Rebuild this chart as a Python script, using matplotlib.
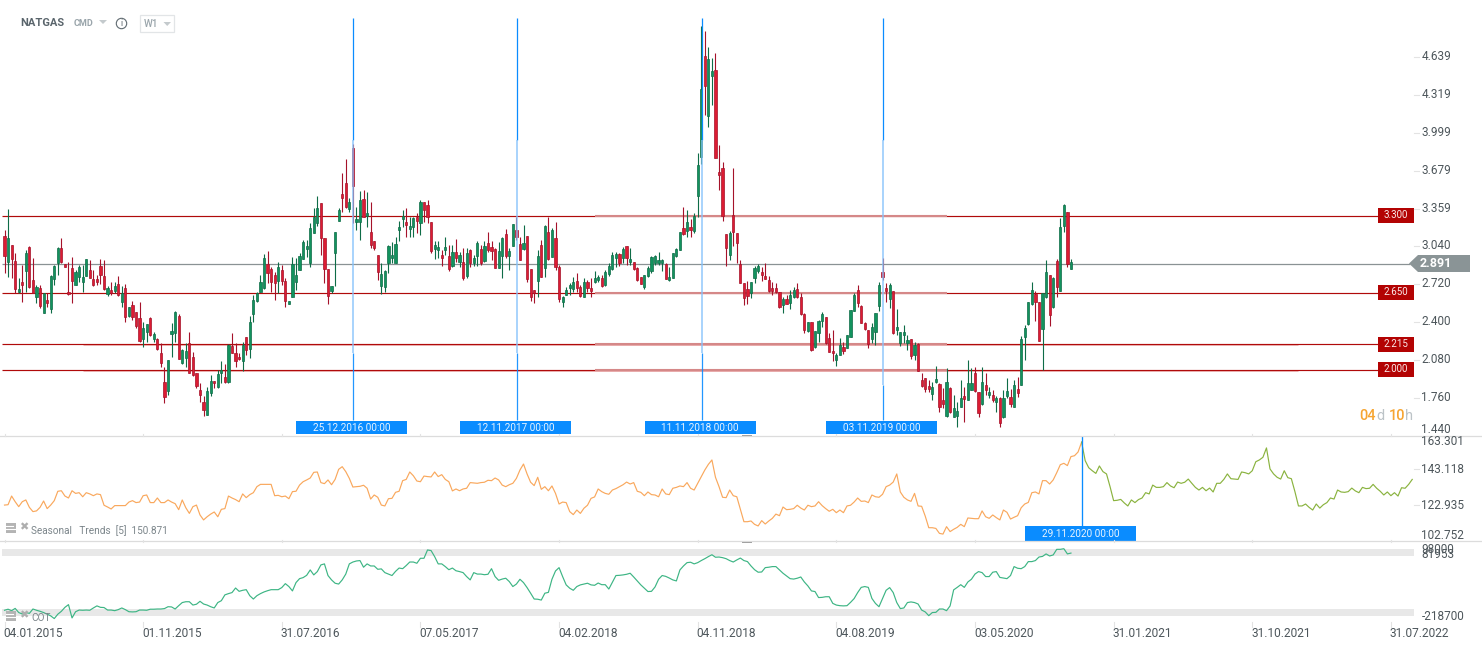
import numpy as np
import matplotlib
matplotlib.use("Agg")
import matplotlib.pyplot as plt
from matplotlib.patches import Rectangle, Polygon, Circle

plt.rcParams['font.family'] = ['Roboto', 'DejaVu Sans']

# weekly candles
highs = [
3.179,3.355,3.052,2.982,2.772,2.884,3.010,3.044,2.940,2.715,
2.715,2.651,2.645,2.800,2.884,3.038,3.108,2.889,2.912,2.954,
2.842,2.884,2.884,2.932,2.926,2.842,2.800,2.932,2.926,2.707,
2.743,2.743,2.791,2.707,2.724,2.533,2.583,2.491,2.572,2.404,
2.387,2.443,2.322,2.266,2.224,2.028,2.084,2.393,2.496,2.471,
2.174,2.224,2.320,2.154,1.972,1.893,1.781,1.859,1.958,1.904,
2.000,2.078,2.050,2.216,2.314,2.230,2.140,2.238,2.280,2.454,
2.631,2.659,2.800,2.976,3.002,2.870,2.828,2.912,2.884,2.772,
2.578,2.954,2.940,2.988,3.094,3.094,3.240,3.361,3.465,3.403,
3.108,2.847,2.707,3.165,3.361,3.661,3.776,3.445,3.903,3.375,
3.507,3.515,3.501,3.417,3.085,2.967,2.897,2.841,3.052,3.080,
3.122,3.257,3.346,3.360,3.285,3.290,3.318,3.431,3.417,3.431,
3.248,3.088,3.088,3.010,3.122,3.052,3.052,3.099,2.995,3.024,
3.024,3.015,2.967,3.085,3.052,3.085,3.164,3.085,3.024,3.080,
3.122,3.184,3.024,3.228,3.290,3.122,3.220,3.127,2.850,2.673,
3.010,3.094,3.220,3.290,3.192,3.248,2.883,2.622,2.701,2.729,
2.785,2.813,2.715,2.771,2.757,2.771,2.835,2.799,2.799,2.841,
2.897,2.995,2.995,2.987,3.038,3.046,3.024,2.911,2.864,2.785,
2.799,2.875,2.959,2.967,2.995,2.931,2.897,2.864,2.981,3.024,
3.164,3.369,3.346,3.268,3.318,3.824,4.896,4.854,4.717,4.624,
4.666,3.894,3.748,3.145,3.173,3.698,3.150,2.926,2.729,2.752,
2.743,2.875,2.892,2.870,2.898,2.791,2.743,2.729,2.659,2.611,
2.631,2.673,2.701,2.729,2.645,2.477,2.406,2.406,2.331,2.420,
2.491,2.449,2.308,2.336,2.140,2.266,2.238,2.294,2.505,2.645,
2.715,2.547,2.406,2.336,2.392,2.477,2.743,2.940,2.729,2.735,
2.667,2.510,2.322,2.378,2.294,2.258,2.238,2.224,1.971,1.935,
1.915,1.901,2.033,1.893,1.845,2.015,1.859,1.789,1.733,1.915,
1.859,2.084,2.019,2.027,1.817,2.027,1.977,1.859,1.831,1.783,
1.775,1.831,1.929,1.837,1.915,1.943,2.286,2.378,2.575,2.743,
2.667,2.575,2.645,2.926,2.799,2.785,2.931,3.277,3.397,3.327,
2.931]
lows = [
2.819,2.786,2.772,2.645,2.645,2.575,2.659,2.687,2.645,2.561,
2.519,2.482,2.533,2.482,2.715,2.800,2.898,2.870,2.631,2.567,
2.715,2.743,2.659,2.794,2.772,2.710,2.715,2.724,2.673,2.626,
2.631,2.645,2.623,2.533,2.407,2.449,2.421,2.351,2.238,2.196,
2.238,2.286,2.238,2.168,2.022,1.725,1.789,2.112,2.238,2.089,
2.050,2.028,1.972,1.952,1.845,1.733,1.615,1.623,1.781,1.845,
1.845,1.893,1.893,1.893,2.140,2.022,2.084,1.994,2.126,2.101,
2.401,2.575,2.659,2.682,2.729,2.659,2.589,2.651,2.715,2.533,
2.558,2.617,2.673,2.842,2.932,2.954,2.870,3.151,3.212,2.968,
2.735,2.555,2.645,2.707,3.257,3.333,3.361,3.333,3.240,3.179,
3.094,3.285,3.207,3.024,3.010,2.757,2.639,2.659,2.813,2.897,
2.903,3.085,3.206,3.122,3.116,3.122,3.155,3.136,3.248,3.240,
2.987,2.934,2.939,2.878,2.967,2.835,2.864,2.911,2.864,2.757,
2.771,2.864,2.875,2.875,2.883,2.911,2.995,2.925,2.855,2.855,
2.774,2.945,2.841,3.046,3.094,2.925,3.010,2.743,2.583,2.566,
2.617,2.785,2.785,2.925,2.948,2.841,2.569,2.532,2.631,2.631,
2.659,2.659,2.617,2.617,2.659,2.617,2.729,2.743,2.701,2.706,
2.791,2.841,2.869,2.875,2.897,2.883,2.883,2.841,2.751,2.723,
2.678,2.785,2.819,2.883,2.883,2.835,2.763,2.751,2.777,2.953,
3.010,3.136,3.122,3.116,3.150,3.291,3.734,4.147,4.043,4.231,
3.788,3.515,3.257,2.875,2.926,3.044,2.898,2.735,2.547,2.555,
2.609,2.735,2.819,2.752,2.766,2.659,2.631,2.651,2.524,2.482,
2.552,2.516,2.603,2.609,2.463,2.308,2.322,2.162,2.182,2.238,
2.364,2.218,2.154,2.078,2.036,2.126,2.134,2.182,2.280,2.499,
2.533,2.392,2.336,2.182,2.224,2.210,2.499,2.757,2.575,2.519,
2.300,2.294,2.204,2.224,2.168,2.089,2.084,1.994,1.859,1.817,
1.811,1.747,1.893,1.649,1.677,1.606,1.635,1.606,1.522,1.691,
1.564,1.747,1.831,1.817,1.601,1.705,1.789,1.761,1.733,1.649,
1.522,1.592,1.761,1.691,1.685,1.775,1.870,2.084,2.378,2.547,
2.415,2.244,2.000,2.603,2.370,2.519,2.617,2.667,3.159,2.870,
2.847]
body_tops = [
3.128,3.108,3.052,2.918,2.682,2.741,2.982,3.033,2.758,2.701,
2.687,2.645,2.589,2.791,2.875,3.024,3.024,2.889,2.659,2.856,
2.822,2.864,2.780,2.932,2.842,2.763,2.766,2.875,2.791,2.687,
2.673,2.707,2.724,2.645,2.687,2.527,2.547,2.488,2.438,2.353,
2.387,2.438,2.303,2.258,2.140,1.899,2.084,2.328,2.488,2.454,
2.168,2.160,2.224,2.109,1.972,1.831,1.730,1.823,1.904,1.904,
1.966,2.000,1.941,2.210,2.202,2.140,2.109,2.210,2.275,2.404,
2.589,2.645,2.741,2.940,2.892,2.847,2.797,2.864,2.842,2.749,
2.578,2.892,2.800,2.960,3.078,3.044,3.193,3.285,3.361,3.403,
3.108,2.847,2.707,3.165,3.347,3.482,3.574,3.414,3.866,3.268,
3.431,3.437,3.319,3.164,3.085,2.967,2.807,2.835,3.043,2.967,
3.060,3.206,3.296,3.248,3.212,3.282,3.290,3.414,3.414,3.388,
3.245,3.052,3.032,2.967,3.035,2.959,2.993,2.993,2.967,2.911,
2.984,3.007,2.942,3.066,3.015,3.043,3.066,3.032,3.015,2.998,
3.111,3.141,3.001,3.228,3.178,3.057,3.066,3.127,2.850,2.673,
2.959,3.052,3.212,3.161,3.178,3.108,2.869,2.611,2.673,2.712,
2.737,2.746,2.701,2.737,2.737,2.689,2.771,2.779,2.771,2.821,
2.872,2.965,2.979,2.973,3.018,3.040,2.934,2.906,2.858,2.779,
2.796,2.855,2.948,2.956,2.922,2.925,2.892,2.779,2.981,3.015,
3.158,3.192,3.245,3.203,3.296,3.726,4.363,4.644,4.616,4.517,
4.526,3.664,3.698,3.145,3.156,3.302,3.150,2.892,2.729,2.679,
2.738,2.856,2.875,2.825,2.791,2.757,2.687,2.687,2.653,2.595,
2.595,2.631,2.673,2.679,2.611,2.471,2.406,2.404,2.325,2.409,
2.471,2.443,2.266,2.162,2.123,2.210,2.190,2.294,2.502,2.631,
2.673,2.538,2.392,2.333,2.362,2.477,2.715,2.825,2.690,2.715,
2.662,2.362,2.317,2.319,2.252,2.258,2.213,2.218,1.915,1.932,
1.865,1.856,1.921,1.882,1.747,1.896,1.848,1.677,1.654,1.761,
1.780,1.887,1.890,1.971,1.817,1.896,1.873,1.814,1.786,1.764,
1.766,1.764,1.820,1.775,1.870,1.837,2.258,2.353,2.569,2.673,
2.639,2.569,2.645,2.822,2.797,2.771,2.917,3.201,3.392,3.327,
2.906]
body_bottoms = [
2.962,2.912,2.937,2.685,2.656,2.718,2.836,2.696,2.651,2.617,
2.539,2.482,2.567,2.516,2.769,2.903,2.912,2.870,2.637,2.752,
2.715,2.786,2.743,2.794,2.777,2.715,2.743,2.802,2.679,2.637,
2.651,2.668,2.631,2.575,2.449,2.454,2.449,2.373,2.244,2.263,
2.322,2.294,2.258,2.174,2.061,1.775,1.826,2.306,2.314,2.095,
2.056,2.104,1.977,1.958,1.865,1.786,1.666,1.623,1.803,1.887,
1.859,1.977,1.899,1.899,2.140,2.078,2.089,2.078,2.165,2.179,
2.474,2.583,2.659,2.687,2.814,2.743,2.735,2.752,2.752,2.583,
2.558,2.617,2.743,2.842,2.937,3.021,2.903,3.156,3.235,3.114,
2.847,2.626,2.665,2.988,3.257,3.448,3.375,3.358,3.552,3.249,
3.246,3.291,3.299,3.052,3.024,2.827,2.706,2.701,2.897,2.945,
2.903,3.178,3.273,3.220,3.186,3.206,3.257,3.234,3.346,3.290,
3.004,3.018,3.012,2.942,3.012,2.850,2.875,2.939,2.908,2.774,
2.791,2.897,2.903,2.959,2.897,2.920,3.010,3.004,2.861,2.861,
2.962,2.959,2.962,3.046,3.122,2.928,3.015,2.765,2.617,2.645,
2.751,2.785,2.855,2.937,2.953,2.869,2.600,2.572,2.633,2.692,
2.684,2.689,2.625,2.617,2.692,2.667,2.743,2.760,2.709,2.715,
2.810,2.847,2.942,2.900,2.939,2.939,2.911,2.852,2.757,2.726,
2.701,2.791,2.833,2.903,2.903,2.903,2.768,2.760,2.777,2.959,
3.012,3.144,3.172,3.178,3.172,3.467,3.790,4.394,4.141,4.478,
3.788,3.644,3.299,3.030,2.968,3.164,3.072,2.735,2.609,2.623,
2.645,2.777,2.836,2.799,2.769,2.667,2.667,2.659,2.533,2.547,
2.558,2.561,2.611,2.611,2.468,2.336,2.331,2.168,2.190,2.314,
2.415,2.224,2.154,2.140,2.084,2.129,2.162,2.182,2.280,2.499,
2.561,2.398,2.348,2.218,2.260,2.317,2.538,2.783,2.665,2.600,
2.308,2.339,2.224,2.297,2.230,2.117,2.126,1.994,1.867,1.842,
1.842,1.800,1.898,1.691,1.713,1.612,1.649,1.606,1.612,1.691,
1.758,1.750,1.834,1.823,1.640,1.710,1.831,1.792,1.744,1.727,
1.550,1.601,1.780,1.710,1.691,1.803,1.870,2.275,2.384,2.552,
2.575,2.246,2.342,2.611,2.460,2.527,2.696,2.667,3.215,2.892,
2.847]
up_down = (
"rgrrgrgrrg" "rgrgggrrrr" "ggggrrrrrg" "rgrgrgrrrg" "grgrrrgggr" "ggrrrrrggr"
"ggrgrrrgrg" "ggggrrrgrr" "gggggggggr" "rrgggrrgrg" "grgrrrgggg" "gggrggrgrr"
"rggrgrgrgr" "grggrgrrrg" "grggrrgrrr" "grgrgrrggg" "grrgrrggrg" "gggrgrgrrr"
"ggggggrggg" "grgrgggrgg" "rrrrgrrrrr" "gggrrrrrrg" "rggrrrgrgg" "grrrggrggg"
"rrrrgggrrg" "rggggrgrrr" "rggrrgrggg" "rggrrgrgrg" "rggrgrgggg" "rrggrgrggr" "g")

seasonal = [
122.9,123.1,128.0,124.8,122.0,124.8,125.8,121.6,119.2,119.6,
121.6,125.2,120.9,122.9,125.4,130.7,131.0,128.0,126.9,131.0,
129.5,129.9,127.6,129.9,129.2,128.2,129.2,128.8,122.8,121.8,
120.7,122.6,122.6,122.6,122.6,124.6,125.4,124.3,124.6,128.2,
128.6,124.3,124.3,126.9,124.3,124.3,125.8,124.6,123.7,120.3,
125.8,121.4,118.2,122.0,122.9,117.3,114.5,116.3,117.8,119.0,
116.3,120.5,120.9,128.0,126.9,126.0,124.8,129.2,127.1,128.8,
129.9,133.3,134.6,134.6,134.6,134.6,128.2,128.4,127.6,128.0,
126.5,130.5,130.7,134.2,136.1,137.1,138.2,141.4,141.6,135.6,
135.0,137.1,134.4,137.4,143.1,144.6,141.8,138.0,133.1,133.3,
133.5,134.1,132.4,126.3,128.6,127.3,122.9,122.4,126.5,126.7,
130.1,130.7,136.7,137.4,141.6,139.5,136.5,136.1,139.3,139.0,
138.8,141.6,139.0,140.1,137.4,136.1,130.9,132.0,131.0,132.0,
132.4,135.6,135.4,135.2,135.6,135.8,136.9,136.7,138.2,137.1,
134.2,133.3,134.4,135.2,138.0,142.7,146.1,140.5,135.8,133.9,
138.6,131.8,133.3,131.0,133.7,129.5,123.5,124.6,124.3,119.2,
117.5,120.1,118.2,121.1,122.8,126.7,127.5,132.0,130.5,129.5,
129.0,131.4,132.2,133.3,134.4,135.9,134.8,135.6,130.7,130.1,
128.2,130.3,128.8,128.6,127.6,132.0,129.2,128.8,132.4,132.9,
133.7,133.3,135.6,132.4,131.4,135.2,139.0,142.7,145.9,148.4,
138.6,133.3,127.3,127.1,131.4,128.2,127.6,120.5,113.5,113.5,
113.9,112.0,111.1,114.1,112.2,113.9,115.4,117.8,116.9,121.8,
120.3,120.5,120.9,122.8,121.2,120.1,122.8,122.0,122.4,124.8,
122.6,120.9,119.4,120.5,118.6,120.1,118.6,122.4,122.8,124.6,
126.9,125.0,125.2,124.3,128.6,127.6,127.3,129.0,133.3,134.2,
135.9,140.5,130.3,127.3,125.8,125.0,129.5,122.4,122.2,116.7,
110.1,110.1,109.7,106.9,106.5,110.7,107.9,109.2,110.3,112.0,
110.7,115.6,115.4,115.2,115.2,119.6,116.3,115.4,117.3,115.8,
114.5,120.1,118.8,115.0,116.0,116.9,121.4,123.5,124.4,129.9,
130.3,129.2,136.7,136.7,134.8,137.1,141.2,145.7,146.5,145.2,
150.3,150.8,152.9,158.5]
seasonal_forecast = [
158.5,148.0,144.0,142.3,140.8,145.0,141.8,140.5,133.3,125.4,125.6,
126.1,124.1,122.4,125.8,124.3,126.0,126.9,129.9,129.2,134.2,
132.9,132.9,133.3,135.6,133.7,132.7,135.9,135.2,135.8,137.6,
135.2,132.9,131.4,132.9,131.0,132.5,130.3,135.2,135.2,137.4,
140.5,137.8,137.6,137.4,141.6,141.2,140.5,142.3,147.4,148.4,
149.9,155.2,143.3,140.5,138.6,137.6,142.3,138.4,137.8,130.5,
122.4,122.4,123.5,121.6,120.1,123.5,121.2,123.1,124.3,126.9,
126.3,131.4,130.3,130.1,130.5,132.5,130.9,129.9,132.9,132.2,
132.4,134.6,132.4,130.7,128.6,130.3,128.2,129.9,128.0,132.7,
132.4,134.6,137.4]

# thousands of contracts
cot = [
-191,-186,-193,-182,-202,-209,-202,-206,-185,-191,
-196,-202,-210,-218,-231,-210,-196,-177,-164,-228,
-198,-190,-191,-190,-191,-180,-170,-177,-178,-190,
-190,-193,-188,-180,-188,-198,-199,-198,-190,-190,
-191,-186,-186,-185,-185,-183,-174,-175,-185,-169,
-154,-150,-150,-166,-162,-148,-161,-166,-174,-180,
-154,-145,-117,-111,-106,-84,-100,-95,-92,-121,
-137,-121,-111,-103,-97,-92,-92,-92,-82,-63,
-77,-98,-58,-39,-34,-23,3,-21,-5,27,
32,-24,-45,-61,-65,-45,-17,32,41,46,
48,16,32,22,22,6,8,-10,-17,-24,
-4,12,9,24,41,41,35,59,59,99,
96,67,32,32,19,4,12,-1,-5,-10,
-29,-45,-10,-17,-17,-20,-18,9,-29,-47,
-41,-37,-53,-77,-65,-42,-58,-82,-109,-137,
-138,-142,-109,-105,-42,-2,14,-29,-69,-85,
-95,-77,-69,-65,-61,-69,-71,-60,-68,-68,
-89,-57,-24,-23,-21,-18,-13,-31,-50,-69,
-85,-101,-100,-79,-42,-24,-28,-36,-45,-50,
3,22,38,40,32,38,48,57,67,76,
64,65,62,57,48,41,51,60,48,43,
22,4,-8,-7,14,16,19,19,3,-13,
-26,-39,-41,-37,-31,-55,-74,-98,-101,-130,
-129,-126,-126,-158,-166,-169,-170,-169,-153,-135,
-106,-81,-77,-81,-134,-158,-174,-135,-95,-82,
-106,-154,-183,-180,-154,-151,-154,-161,-190,-199,
-217,-202,-201,-185,-185,-193,-170,-93,-81,-68,
-81,-55,-42,-17,-5,-10,-29,-29,-8,-5,
-33,-36,-39,-24,19,11,9,19,43,43,
48,65,68,80,70,75,102,102,105,80,
84]

price_ticks = [4.639, 4.319, 3.999, 3.679, 3.359, 3.040, 2.720, 2.400, 2.080, 1.760]
levels = [3.300, 2.650, 2.215, 2.000]
last_price = 2.891
date_bars = [0, 39, 78, 117, 156, 195, 234, 273, 312, 351, 390]
date_labels = ["04.01.2015", "01.11.2015", "31.07.2016", "07.05.2017", "04.02.2018",
               "04.11.2018", "04.08.2019", "03.05.2020", "31.01.2021", "31.10.2021", "31.07.2022"]
marker_bars = [98, 144, 196, 247]
marker_dates = ["25.12.2016 00:00", "12.11.2017 00:00", "11.11.2018 00:00", "03.11.2019 00:00"]
marker_pale_end = [2.145, 2.145, 2.145, 1.87]
seasonal_marker_bar = 303
seasonal_marker_date = "29.11.2020 00:00"
cot_bands = [(69.9, 103.6), (-218.7, -185.0)]

W, H = 1482, 650
TXT = "#4d565b"
RED_F, RED_E = "#dc1c33", "#a5122a"
GRN_F, GRN_E = "#12935e", "#0e6c47"
BLUE = "#0a8cff"
PALE = "#85c2fb"

fig = plt.figure(figsize=(W / 100, H / 100), dpi=100, facecolor="white")


def pane(y0, y1):
    a = fig.add_axes([0, 1 - y1 / H, 1414 / W, (y1 - y0) / H])
    a.set_xlim(-1.266, 396.5)
    a.axis("off")
    a.patch.set_alpha(0)
    return a


ax = pane(0, 436)
ax.set_ylim(1.443, 5.115)
ax_s = pane(436, 541)
ax_s.set_ylim(102.59, 161.94)
ax_c = pane(541, 622)
ax_c.set_ylim(-247.5, 142.1)

# overlay in pixel units for the labels and small furniture
ov = fig.add_axes([0, 0, 1, 1], zorder=10)
ov.set_xlim(0, W)
ov.set_ylim(H, 0)
ov.axis("off")
ov.patch.set_alpha(0)

# levels
for lv in levels:
    ax.hlines(lv, -0.7, 386.5, color="#b00a0a", lw=0.85, zorder=1)
    ax.hlines(lv - 0.006, 22, 364, color="#efbcbc", lw=0.7, zorder=0.9)
    ax.hlines(lv, 166, 265, color="#d58888", lw=1.5, zorder=1.1)
ax.hlines(last_price, -0.7, 395.5, color="#8a9294", lw=0.9, zorder=1)

# candles
x = np.arange(len(highs))
highs = np.array(highs)
lows = np.array(lows)
body_tops = np.array(body_tops)
body_bottoms = np.array(body_bottoms)
up = np.array([c == "g" for c in up_down])
ax.vlines(x[up], lows[up], highs[up], color=GRN_E, lw=0.8, zorder=2)
ax.vlines(x[~up], lows[~up], highs[~up], color=RED_E, lw=0.8, zorder=2)
ax.bar(x[up], (body_tops - body_bottoms)[up], bottom=body_bottoms[up], width=0.62,
       color=GRN_F, edgecolor=GRN_E, lw=0.5, zorder=2.5)
ax.bar(x[~up], (body_tops - body_bottoms)[~up], bottom=body_bottoms[~up], width=0.62,
       color=RED_F, edgecolor=RED_E, lw=0.5, zorder=2.5)

# vertical markers
for b, d, pe in zip(marker_bars, marker_dates, marker_pale_end):
    ax.vlines(b + 0.1, 3.936, 4.963, color=BLUE, lw=0.9, zorder=3)
    ax.vlines(b + 0.1, pe, 3.936, color=PALE, lw=1.25, alpha=0.8, zorder=3)
    ax.vlines(b + 0.1, 1.58, pe, color=BLUE, lw=0.9, alpha=0.9, zorder=3)
    cx = 4.5 + 3.555 * b
    ov.add_patch(Rectangle((cx - 56.5, 421), 111, 13, color="#0a8cff", lw=0))
    ov.text(cx - 1, 427.8, d, color="#e8f4ff", fontsize=7.2, ha="center", va="center")

# seasonal
ax_s.plot(np.arange(len(seasonal)), seasonal, color="#f9a85d", lw=0.85)
ax_s.plot(np.arange(seasonal_marker_bar, seasonal_marker_bar + len(seasonal_forecast)),
          seasonal_forecast, color="#8ab33f", lw=0.85)
ax_s.vlines(seasonal_marker_bar, 110, 161.9, color=BLUE, lw=0.95)
ov.add_patch(Rectangle((1025, 526), 111, 15, color="#0a8cff", lw=0))
ov.text(1080.5, 534.2, seasonal_marker_date, color="#e8f4ff", fontsize=7.2, ha="center", va="center")

# cot
for lo, hi in cot_bands:
    ax_c.fill_between([-0.7, 396.5], lo, hi, color="#e8e8e8", lw=0, zorder=0)
ax_c.plot(np.arange(len(cot)), cot, color="#3db584", lw=0.85, zorder=2)

# separators and tick marks
for yy in (435.5, 541):
    ov.plot([0, W], [yy, yy], color="#dcdcdc", lw=0.9)
ov.add_patch(Rectangle((742, 435), 10, 1.6, color="#9a9a9a", lw=0))
ov.add_patch(Rectangle((742, 541), 10, 1.6, color="#9a9a9a", lw=0))

for b, lab in zip(date_bars, date_labels):
    cx = 4.5 + 3.555 * b
    ov.plot([cx, cx], [622, 627], color="#e3e3e3", lw=0.8)
    ov.plot([cx, cx], [434, 436], color="#e3e3e3", lw=0.8)
    ov.plot([cx, cx], [540, 542], color="#e3e3e3", lw=0.8)
    ov.text(cx - 1, 633.5, lab, color=TXT, fontsize=8.6, ha="left", va="center")

for v in price_ticks:
    yy = 56.5 + (4.639 - v) * 118.75
    ov.plot([1414, 1419], [yy, yy], color="#e3e3e3", lw=0.8)
    ov.text(1421.5, yy - 0.5, "%.3f" % v, color=TXT, fontsize=8.5, ha="left", va="center")
ov.text(1421.5, 429.5, "1.440", color=TXT, fontsize=8.5, ha="left", va="center")

for s, yy in (("163.301", 441.7), ("143.118", 469.7), ("122.935", 505.7), ("102.752", 535.7),
              ("98000", 549.5), ("81953", 554.5), ("-218700", 617)):
    ov.text(1421.5, yy, s, color=TXT, fontsize=8.5, ha="left", va="center")
for yy in (469.3, 505):
    ov.plot([1414, 1419], [yy, yy], color="#e3e3e3", lw=0.8)

# level tags and price tag
for lv in levels:
    yy = 56.5 + (4.639 - lv) * 118.75
    ov.add_patch(Rectangle((1378, yy - 7.5), 36, 15, color="#b30303", lw=0))
    ov.text(1395.5, yy - 0.5, "%.3f" % lv, color="#fbeaea", fontsize=7, ha="center", va="center")
ov.add_patch(Polygon([(1409, 263.5), (1418, 255), (1470, 255), (1470, 272), (1418, 272)],
                     closed=True, color="#8a9496", lw=0))
ov.text(1436, 263.5, "%.3f" % last_price, color="white", fontsize=9, fontweight="bold",
        ha="center", va="center")

# countdown
ov.text(1359.5, 415.5, "04", color="#f6a532", fontsize=10.5, fontweight="medium", ha="left", va="center")
ov.text(1376.5, 415.5, "d", color="#bcc3c7", fontsize=10.5, ha="left", va="center")
ov.text(1388.5, 415.5, "10", color="#f6a532", fontsize=10.5, fontweight="medium", ha="left", va="center")
ov.text(1405.5, 415.5, "h", color="#bcc3c7", fontsize=10.5, ha="left", va="center")

# header
ov.text(20, 23.5, "NATGAS", color="#5a656c", fontsize=8, fontweight="bold", ha="left", va="center")
ov.text(74, 24, "CMD", color="#9aa5ab", fontsize=6.5, fontweight="bold", ha="left", va="center")
ov.add_patch(Polygon([(99, 20), (107, 20), (103, 24)], closed=True, color="#c4cacd", lw=0))
ov.add_patch(Circle((121.5, 23.5), 5.2, fill=False, ec="#5f6a70", lw=0.8))
ov.text(121.5, 23.5, "i", color="#5f6a70", fontsize=6.5, ha="center", va="center")
ov.add_patch(Rectangle((139.5, 15), 34.5, 16.5, fill=False, ec="#e2e5e7", lw=0.9))
ov.text(144, 23.7, "W1", color="#9aa5ab", fontsize=7.2, fontweight="medium", ha="left", va="center")
ov.add_patch(Polygon([(163.5, 22), (171, 22), (167.2, 26)], closed=True, color="#c4cacd", lw=0))


# pane legends with their two little icons
def legend_icon(y):
    ov.add_patch(Rectangle((6, y), 10, 9.5, color="#b4b4b4", lw=0))
    ov.plot([6, 13], [y + 2.8, y + 2.8], color="white", lw=0.8)
    ov.plot([6, 16], [y + 6.2, y + 6.2], color="white", lw=0.8)
    ov.text(23.5, y + 4.5, "\u2716", color="#aeaeae", fontsize=8, family="DejaVu Sans",
            ha="center", va="center")


legend_icon(523)
legend_icon(611)
ov.text(31, 530.5, "Seasonal   Trends  [5]  150.871", color="#7b858a", fontsize=7.2, ha="left", va="center")
ov.text(31, 618, "COT", color="#7b858a", fontsize=7.2, ha="left", va="center")

fig.savefig("out.png", dpi=100, facecolor="white")
